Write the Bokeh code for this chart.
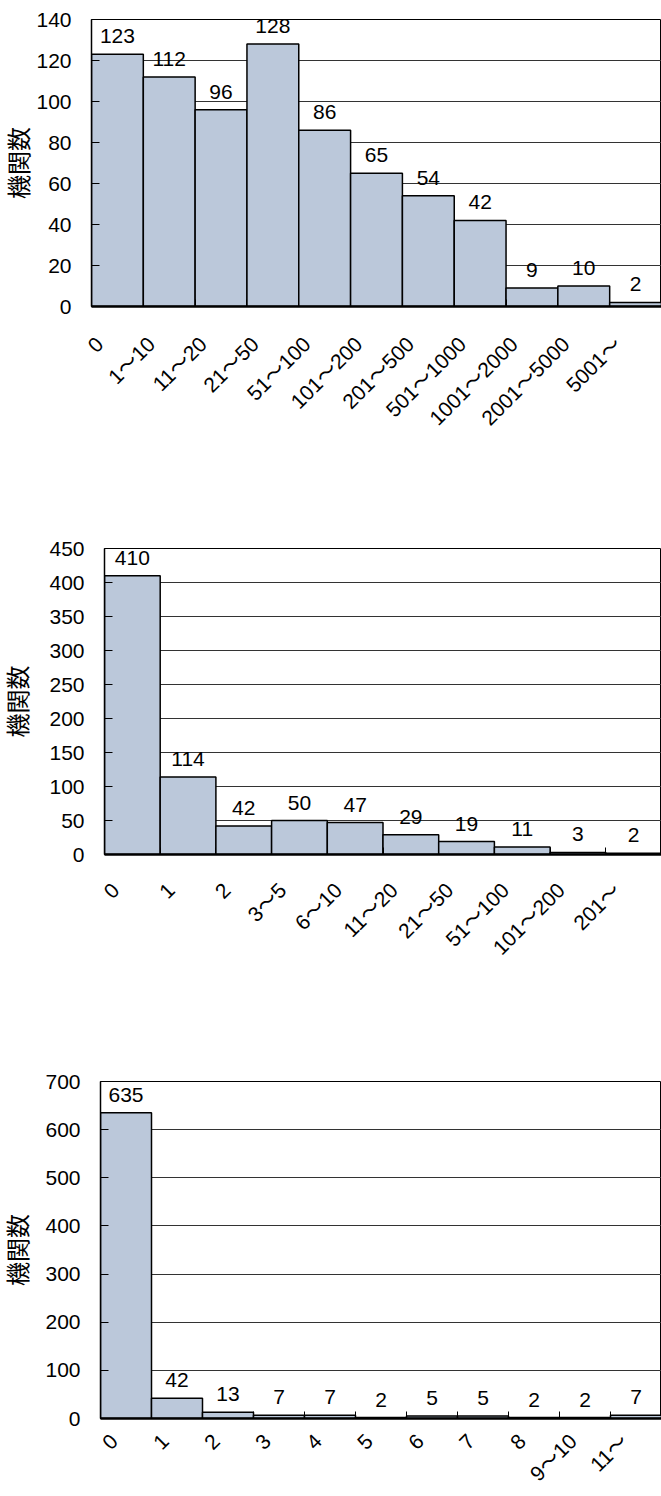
import math
from bokeh.plotting import figure
from bokeh.models import Range1d, FixedTicker, ColumnDataSource, LabelSet
from bokeh.core.properties import value
from bokeh.layouts import column
from bokeh.embed import file_html
from bokeh.resources import INLINE

# 取引件数の区分ごとの機関数
cats1 = ["0", "1～10", "11～20", "21～50", "51～100", "101～200", "201～500",
         "501～1000", "1001～2000", "2001～5000", "5001～"]
vals1 = [123, 112, 96, 128, 86, 65, 54, 42, 9, 10, 2]
yticks1 = [0, 20, 40, 60, 80, 100, 120, 140]

cats2 = ["0", "1", "2", "3～5", "6～10", "11～20", "21～50", "51～100",
         "101～200", "201～"]
vals2 = [410, 114, 42, 50, 47, 29, 19, 11, 3, 2]
yticks2 = [0, 50, 100, 150, 200, 250, 300, 350, 400, 450]

cats3 = ["0", "1", "2", "3", "4", "5", "6", "7", "8", "9～10", "11～"]
vals3 = [635, 42, 13, 7, 7, 2, 5, 5, 2, 2, 7]
yticks3 = [0, 100, 200, 300, 400, 500, 600, 700]

NUM_FONT = "Liberation Sans"
MIXED_FONT = "'Liberation Sans', 'Noto Sans CJK JP'"
BAR = "#BBC8DA"
WIDTH = 661


def make_chart(cats, vals, yticks, height, top, left, frame_h, title_standoff,
               cat_standoff, cat_shift_px):
    n = len(cats)
    centers = [i + 0.5 for i in range(n)]
    p = figure(width=WIDTH, height=height, output_backend="svg", toolbar_location=None,
               x_range=Range1d(0, n), y_range=Range1d(0, yticks[-1]),
               min_border_left=left, min_border_right=0, min_border_top=top,
               min_border_bottom=height - top - frame_h, frame_align=False)
    p.outline_line_color = "black"
    p.outline_line_width = 1
    p.background_fill_color = "white"
    p.border_fill_color = "white"

    src = ColumnDataSource(dict(x=centers, top=vals, lab=[str(v) for v in vals]))
    p.vbar(x="x", top="top", bottom=0, width=1, source=src,
           fill_color=BAR, line_color="black", line_width=1.5)

    # value labels above the bars
    p.add_layout(LabelSet(x="x", y="top", text="lab", source=src,
                          text_align="center", text_baseline="alphabetic",
                          y_offset=11, text_font=value(NUM_FONT),
                          text_font_size="21px", text_color="black"))

    # y axis: ticks pointing into the plot, grid at each tick
    ya = p.yaxis[0]
    ya.ticker = FixedTicker(ticks=yticks)
    ya.major_tick_in = 8
    ya.major_tick_out = 0
    ya.minor_tick_line_color = None
    ya.major_tick_line_color = "black"
    ya.axis_line_color = "black"
    ya.axis_line_width = 1.5
    ya.major_label_text_font = NUM_FONT
    ya.major_label_text_font_size = "21px"
    ya.major_label_text_color = "black"
    ya.major_label_standoff = 20
    ya.axis_label = "機関数"
    ya.axis_label_text_font = MIXED_FONT
    ya.axis_label_text_font_size = "24px"
    ya.axis_label_text_font_style = "normal"
    ya.axis_label_text_color = "black"
    ya.axis_label_standoff = title_standoff

    p.ygrid.ticker = FixedTicker(ticks=yticks)
    p.ygrid.grid_line_color = "#333333"
    p.ygrid.grid_line_width = 1
    p.xgrid.visible = False

    # x axis: short ticks at category boundaries, slanted names near each bar
    bar_px = (WIDTH - left) / n
    name_pos = [c - cat_shift_px / bar_px for c in centers]
    xa = p.xaxis[0]
    xa.ticker = FixedTicker(ticks=name_pos, minor_ticks=list(range(n + 1)))
    xa.major_label_overrides = {pos: name for pos, name in zip(name_pos, cats)}
    xa.major_tick_line_color = None
    xa.minor_tick_in = 7
    xa.minor_tick_out = 0
    xa.minor_tick_line_color = "black"
    xa.axis_line_color = "black"
    xa.axis_line_width = 2.5
    xa.axis_label_standoff = 0
    xa.major_label_orientation = math.pi / 4
    xa.major_label_standoff = cat_standoff
    xa.major_label_text_font = MIXED_FONT
    xa.major_label_text_font_size = "21px"
    xa.major_label_text_color = "black"
    return p


p1 = make_chart(cats1, vals1, yticks1, 470, 19, 91, 287, 0, 28, 18)
p2 = make_chart(cats2, vals2, yticks2, 530, 78, 104, 306, 14, 26, 17)
p3 = make_chart(cats3, vals3, yticks3, 496, 81, 100, 337, 10, 13, 12)

layout = column(p1, p2, p3, spacing=0)
open("out.html", "w").write(file_html(layout, INLINE))
